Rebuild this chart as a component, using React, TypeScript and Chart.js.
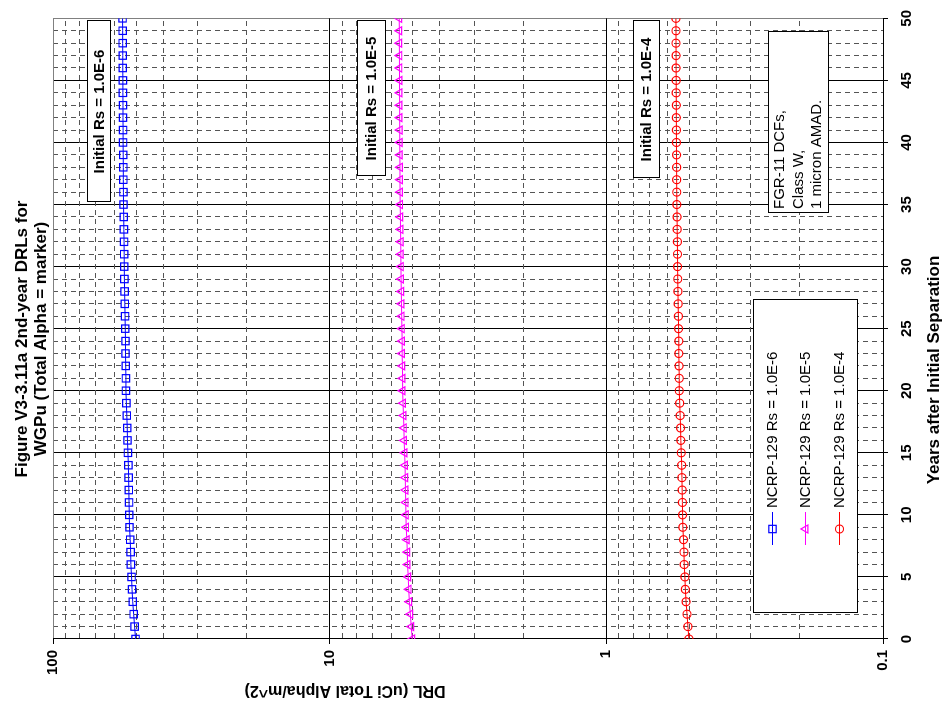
import React, { useEffect, useRef } from "react";
import { Chart, registerables } from "chart.js";

Chart.register(...registerables);

// ---------------- data ----------------
const years = [
  0, 1, 2, 3, 4, 5, 6, 7, 8, 9, 10, 11, 12, 13, 14, 15, 16, 17, 18, 19, 20,
  21, 22, 23, 24, 25, 26, 27, 28, 29, 30, 31, 32, 33, 34, 35, 36, 37, 38, 39,
  40, 41, 42, 43, 44, 45, 46, 47, 48, 49, 50,
];

const drlRs1e6 = [
  50.3, 50.7, 51.1, 51.5, 51.8, 52.0, 52.3, 52.4, 52.6, 52.9, 53.0, 53.1,
  53.2, 53.3, 53.4, 53.6, 53.8, 53.9, 54.1, 54.3, 54.5, 54.5, 54.6, 54.7,
  54.7, 54.8, 54.9, 55.0, 55.1, 55.2, 55.25, 55.3, 55.35, 55.45, 55.5, 55.6,
  55.65, 55.7, 55.7, 55.75, 55.8, 55.8, 55.85, 55.85, 55.9, 55.9, 55.95,
  55.95, 56.0, 56.0, 56.05,
];

const drlRs1e5 = [
  5.03, 5.07, 5.11, 5.15, 5.18, 5.2, 5.23, 5.24, 5.26, 5.29, 5.3, 5.31, 5.32,
  5.33, 5.34, 5.36, 5.38, 5.39, 5.41, 5.43, 5.45, 5.45, 5.46, 5.47, 5.47,
  5.48, 5.49, 5.5, 5.51, 5.52, 5.525, 5.53, 5.535, 5.545, 5.55, 5.56, 5.565,
  5.57, 5.57, 5.575, 5.58, 5.58, 5.585, 5.585, 5.59, 5.59, 5.595, 5.595, 5.6,
  5.6, 5.605,
];

const drlRs1e4 = [
  0.503, 0.507, 0.511, 0.515, 0.518, 0.52, 0.523, 0.524, 0.526, 0.529, 0.53,
  0.531, 0.532, 0.533, 0.534, 0.536, 0.538, 0.539, 0.541, 0.543, 0.545,
  0.545, 0.546, 0.547, 0.547, 0.548, 0.549, 0.55, 0.551, 0.552, 0.5525,
  0.553, 0.5535, 0.5545, 0.555, 0.556, 0.5565, 0.557, 0.557, 0.5575, 0.558,
  0.558, 0.5585, 0.5585, 0.559, 0.559, 0.5595, 0.5595, 0.56, 0.56, 0.5605,
];

const yearTicks = years;
const yearLabelStep = 5;
const logTicks = [
  0.1, 0.2, 0.3, 0.4, 0.5, 0.6, 0.7, 0.8, 0.9, 1, 2, 3, 4, 5, 6, 7, 8, 9, 10,
  20, 30, 40, 50, 60, 70, 80, 90, 100,
];
const logMajorTicks = [0.1, 1, 10, 100];

const seriesLabels = [
  "NCRP-129 Rs = 1.0E-6",
  "NCRP-129 Rs = 1.0E-5",
  "NCRP-129 Rs = 1.0E-4",
];
const boxLabels = ["Initial Rs = 1.0E-6", "Initial Rs = 1.0E-5", "Initial Rs = 1.0E-4"];
const noteLines = ["FGR-11 DCFs,", "Class W,", "1 micron AMAD."];
const titleLines = ["Figure V3-3.11a 2nd-year DRLs for", "WGPu (Total Alpha = marker)"];
const xTitle = "Years after Initial Separation";
const yTitle = "DRL (uCi Total Alpha/m^2)";

// ---------------- styles ----------------
const FONT = "'Liberation Sans', Arial, sans-serif";
const colors = ["#0000FF", "#FF00FF", "#FF0000"];
const pointStyles = ["rect", "triangle", "circle"];
const pointRadii = [5.2, 4.6, 4];

// local (unrotated) layout; the whole canvas is rotated -90deg on screen
const W = 711;
const H = 946;

const isMajorLog = (v: number) => logMajorTicks.some((m) => Math.abs(m - v) < 1e-9);

const overlayPlugin = {
  id: "overlay",
  afterDraw(chart: any) {
    const ctx: CanvasRenderingContext2D = chart.ctx;
    ctx.save();
    ctx.fillStyle = "#000";
    ctx.textBaseline = "middle";

    // title
    ctx.font = `bold 17px ${FONT}`;
    ctx.textAlign = "center";
    ctx.fillText(titleLines[0], 372, 22);
    ctx.fillText(titleLines[1], 372, 41);

    // x axis title
    ctx.font = `bold 17px ${FONT}`;
    ctx.fillText(xTitle, 341, 934);

    // y axis title (rotated)
    ctx.save();
    ctx.translate(21, 345);
    ctx.rotate(-Math.PI / 2);
    ctx.font = `bold 16px ${FONT}`;
    ctx.fillText(yTitle, 0, 0);
    ctx.restore();

    // "Initial Rs" boxes
    const boxes = [
      { x1: 509, x2: 690, y1: 87, y2: 110 },
      { x1: 535, x2: 690, y1: 357, y2: 385 },
      { x1: 533, x2: 690, y1: 633, y2: 659 },
    ];
    ctx.font = `bold 15px ${FONT}`;
    boxes.forEach((b, i) => {
      ctx.fillStyle = "#fff";
      ctx.fillRect(b.x1, b.y1, b.x2 - b.x1, b.y2 - b.y1);
      ctx.strokeStyle = "#000";
      ctx.lineWidth = 1;
      ctx.strokeRect(b.x1 + 0.5, b.y1 + 0.5, b.x2 - b.x1, b.y2 - b.y1);
      ctx.fillStyle = "#000";
      ctx.textAlign = "center";
      ctx.fillText(boxLabels[i], (b.x1 + b.x2) / 2, (b.y1 + b.y2) / 2 + 1);
    });

    // note box
    ctx.fillStyle = "#fff";
    ctx.fillRect(498, 768, 181, 60);
    ctx.strokeStyle = "#000";
    ctx.strokeRect(498.5, 768.5, 181, 60);
    ctx.fillStyle = "#000";
    ctx.textAlign = "left";
    ctx.font = `15px ${FONT}`;
    noteLines.forEach((t, i) => ctx.fillText(t, 502, 780 + i * 18.5));

    // legend
    ctx.fillStyle = "#fff";
    ctx.fillRect(98, 753, 313, 104);
    ctx.strokeStyle = "#000";
    ctx.strokeRect(98.5, 753.5, 313, 104);
    const rows = [772, 805, 839];
    seriesLabels.forEach((lab, i) => {
      const y = rows[i];
      ctx.strokeStyle = colors[i];
      ctx.lineWidth = 1;
      ctx.beginPath();
      ctx.moveTo(166, y + 0.5);
      ctx.lineTo(199, y + 0.5);
      ctx.stroke();
      ctx.lineWidth = 1.2;
      const r = pointRadii[i];
      if (i === 0) {
        const s = r * Math.SQRT1_2;
        ctx.strokeRect(182 - s, y + 0.5 - s, 2 * s, 2 * s);
      } else if (i === 1) {
        ctx.beginPath();
        ctx.moveTo(182, y + 0.5 - r);
        ctx.lineTo(182 + r * 0.866, y + 0.5 + r * 0.5);
        ctx.lineTo(182 - r * 0.866, y + 0.5 + r * 0.5);
        ctx.closePath();
        ctx.stroke();
      } else {
        ctx.beginPath();
        ctx.arc(182, y + 0.5, r, 0, Math.PI * 2);
        ctx.stroke();
      }
      ctx.fillStyle = "#000";
      ctx.textAlign = "left";
      ctx.font = `15px ${FONT}`;
      ctx.fillText(lab, 203, y + 1);
    });

    ctx.restore();
  },
};

export default function App() {
  const ref = useRef<HTMLCanvasElement | null>(null);

  useEffect(() => {
    document.body.style.margin = "0";
    const canvas = ref.current;
    if (!canvas) return;
    const series = [drlRs1e6, drlRs1e5, drlRs1e4];
    const chart = new Chart(canvas, {
      type: "line",
      data: {
        datasets: series.map((vals, i) => ({
          label: seriesLabels[i],
          data: years.map((x, j) => ({ x, y: vals[j] })),
          borderColor: colors[i],
          backgroundColor: "rgba(0,0,0,0)",
          borderWidth: 1,
          pointStyle: pointStyles[i] as any,
          pointRadius: pointRadii[i],
          pointBorderColor: colors[i],
          pointBackgroundColor: "rgba(0,0,0,0)",
          pointBorderWidth: 1.2,
          tension: 0,
          fill: false,
        })),
      },
      options: {
        responsive: false,
        animation: false,
        devicePixelRatio: 1,
        layout: { padding: { top: 53, right: 13, left: 0, bottom: 0 } },
        plugins: {
          legend: { display: false },
          title: { display: false },
          tooltip: { enabled: false },
        },
        scales: {
          x: {
            type: "linear",
            min: 0,
            max: 50,
            afterBuildTicks: (s: any) => {
              s.ticks = yearTicks.map((v) => ({ value: v }));
            },
            afterFit: (s: any) => {
              s.height = 63;
            },
            ticks: {
              autoSkip: false,
              maxRotation: 0,
              padding: 10,
              color: "#000",
              font: { family: FONT, size: 15, weight: "bold" },
              callback: (v: any) => (Number(v) % yearLabelStep === 0 ? String(v) : ""),
            },
            grid: {
              lineWidth: 1,
              drawTicks: true,
              tickLength: 5,
              color: (c: any) => {
                const v = c.tick ? c.tick.value : 0;
                if (v === 50) return "#808080";
                return v % yearLabelStep === 0 ? "#000" : "#555";
              },
              tickColor: (c: any) => {
                const v = c.tick ? c.tick.value : 0;
                return v % yearLabelStep === 0 ? "#000" : "rgba(0,0,0,0)";
              },
            },
            border: {
              display: true,
              color: "#000",
              width: 1,
              dash: (c: any) => {
                if (!c.tick) return [];
                return c.tick.value % yearLabelStep === 0 ? [] : [5, 4];
              },
            },
          },
          y: {
            type: "logarithmic",
            min: 0.1,
            max: 100,
            afterBuildTicks: (s: any) => {
              s.ticks = logTicks.map((v) => ({ value: v }));
            },
            afterFit: (s: any) => {
              s.width = 72;
            },
            ticks: {
              autoSkip: false,
              padding: 6,
              color: "#000",
              font: { family: FONT, size: 15, weight: "bold" },
              callback: (v: any) => (isMajorLog(Number(v)) ? String(Number(v)) : ""),
            },
            grid: {
              lineWidth: 1,
              drawTicks: true,
              tickLength: 5,
              color: (c: any) => {
                const v = c.tick ? c.tick.value : 0.1;
                if (Math.abs(v - 100) < 1e-9) return "#808080";
                return isMajorLog(v) ? "#000" : "#555";
              },
              tickColor: (c: any) => {
                const v = c.tick ? c.tick.value : 0.1;
                return isMajorLog(v) ? "#000" : "rgba(0,0,0,0)";
              },
            },
            border: {
              display: true,
              color: "#000",
              width: 1,
              dash: (c: any) => {
                if (!c.tick) return [];
                return isMajorLog(c.tick.value) ? [] : [5, 4];
              },
            },
          },
        },
      } as any,
      plugins: [overlayPlugin],
    });
    return () => chart.destroy();
  }, []);

  return (
    <div
      style={{
        position: "fixed",
        left: 0,
        top: 0,
        width: W,
        height: H,
        transformOrigin: "0 0",
        transform: `translate(0px, ${W}px) rotate(-90deg)`,
        background: "#fff",
      }}
    >
      <canvas ref={ref} width={W} height={H} style={{ width: W, height: H, display: "block" }} />
    </div>
  );
}
